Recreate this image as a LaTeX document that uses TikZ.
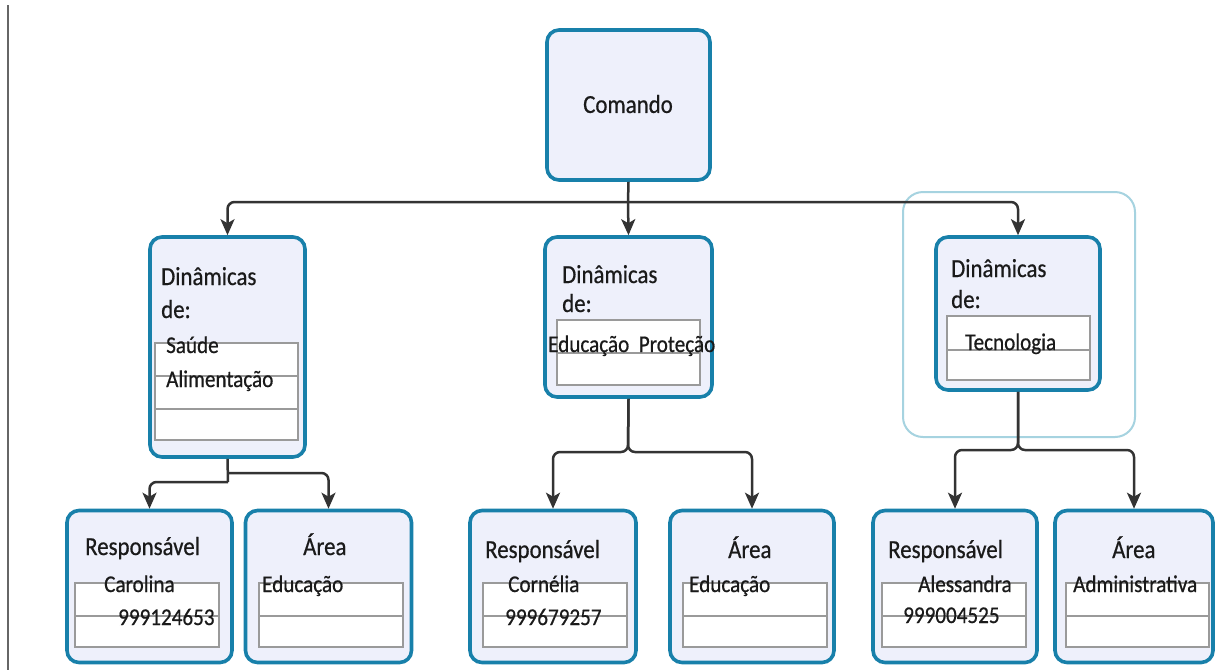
\documentclass[tikz,border=0pt]{standalone}
\usepackage{fontspec}
\setmainfont{Carlito}[FakeStretch=0.88,FakeBold=0.6]
\usetikzlibrary{arrows.meta}
\definecolor{boxedge}{HTML}{1880AA}
\definecolor{boxfill}{HTML}{EEF0FB}
\definecolor{hilite}{HTML}{A6D3E0}
\definecolor{rowedge}{HTML}{9A9A9A}
\definecolor{conncol}{HTML}{333333}
\definecolor{txt}{HTML}{1A1A1A}
\definecolor{edgeline}{HTML}{666666}
\begin{document}
\begin{tikzpicture}[x=1pt,y=-1pt,
 box/.style={draw=boxedge,fill=boxfill,line width=3.6pt,rounded corners=12pt,inner sep=0pt},
 row/.style={draw=rowedge,fill=white,line width=1.3pt},
 sepline/.style={draw=rowedge,line width=2.8pt},
 conn/.style={draw=conncol,line width=2.5pt,rounded corners=7pt},
 arr/.style={conn,-{Stealth[length=16pt,width=14pt,inset=4pt]}},
 hd/.style={font=\fontsize{26}{29}\selectfont,text=txt,inner sep=0pt,anchor=base west},
 tx/.style={font=\fontsize{24}{27}\selectfont,text=txt,inner sep=0pt,anchor=base west},
]
\useasboundingbox[fill=white] (0,0) rectangle (1222,670);
\draw[edgeline,line width=2pt] (8,5) -- (8,670);
% highlight frame
\draw[hilite,line width=2pt,rounded corners=20pt] (903,192) rectangle (1135,437);

% boxes
\node[box,minimum width=163pt,minimum height=150pt] (cmd) at (628.5,105) {};
\node[box,minimum width=155pt,minimum height=220pt] (d1) at (227.5,347) {};
\node[box,minimum width=167pt,minimum height=160pt] (d2) at (628.5,317) {};
\node[box,minimum width=164pt,minimum height=153pt] (d3) at (1018,313.5) {};
\node[box,minimum width=165pt,minimum height=152pt] (r1) at (149.5,586.5) {};
\node[box,minimum width=166pt,minimum height=152pt] (a1) at (328.5,586.5) {};
\node[box,minimum width=166pt,minimum height=152pt] (r2) at (553,586.5) {};
\node[box,minimum width=164pt,minimum height=152pt] (a2) at (752,586.5) {};
\node[box,minimum width=164pt,minimum height=152pt] (r3) at (955,586.5) {};
\node[box,minimum width=158pt,minimum height=152pt] (a3) at (1134,586.5) {};

% inner rows
\path[row] (155,343) rectangle (298,376);
\path[row] (155,376) rectangle (298,409);
\path[row] (155,409) rectangle (298,440);
\draw[sepline] (155,376) -- (298,376);
\draw[sepline] (155,409) -- (298,409);

\path[row] (557,320) rectangle (700,353);
\path[row] (557,353) rectangle (700,385);
\draw[sepline] (557,353) -- (700,353);

\path[row] (947,316) rectangle (1090,350);
\path[row] (947,350) rectangle (1090,380);
\draw[sepline] (947,350) -- (1090,350);

\foreach \xa/\xb in {75/219,259/403,483/627,683/827,882/1026,1066/1209}{
  \path[row] (\xa,583) rectangle (\xb,616);
  \path[row] (\xa,616) rectangle (\xb,647);
  \draw[sepline] (\xa,616) -- (\xb,616);
}

% connectors
\coordinate (j0) at (628,202);
\draw[conn] (cmd.south) -- (j0);
\draw[arr] (j0) -| (d1.north);
\draw[arr] (j0) -- (d2.north);
\draw[arr] (j0) -| (d3.north);

\coordinate (j1a) at (228,473);
\coordinate (j1b) at (228,482);
\draw[conn] (d1.south) -- (j1b);
\draw[arr] (j1b) -| (r1.north);
\draw[arr] (j1a) -| (a1.north);

\coordinate (j2) at (628,452);
\draw[arr] (d2.south) -- (j2) -| (r2.north);
\draw[arr] (d2.south) -- (j2) -| (a2.north);

\coordinate (j3) at (1018,450);
\draw[arr] (d3.south) -- (j3) -| (r3.north);
\draw[arr] (d3.south) -- (j3) -| (a3.north);

% texts
\node[hd,anchor=center] (tcmd) at (628,104) {Comando};

\node[hd] (t1a) at (161,285) {Dinâmicas};
\node[hd] (t1b) at (161,318) {de:};
\node[tx] (t1c) at (166,353) {Saúde};
\node[tx] (t1d) at (166,387) {Alimentação};

\node[hd] (t2a) at (562,283) {Dinâmicas};
\node[hd] (t2b) at (562,312) {de:};
\node[tx] (t2c) at (548,352) {Educação\ \ Proteção};

\node[hd] (t3a) at (951,277) {Dinâmicas};
\node[hd] (t3b) at (951,308) {de:};
\node[tx] (t3c) at (965,350) {Tecnologia};

\node[hd] (t4a) at (85,555) {Responsável};
\node[tx] (t4b) at (104,592) {Carolina};
\node[tx] (t4c) at (118,625) {999124653};

\node[hd] (t5a) at (303,555) {Área};
\node[tx] (t5b) at (262,592) {Educação};

\node[hd] (t6a) at (485,558) {Responsável};
\node[tx] (t6b) at (508,592) {Cornélia};
\node[tx] (t6c) at (505,625) {999679257};

\node[hd] (t7a) at (728,558) {Área};
\node[tx] (t7b) at (689,592) {Educação};

\node[hd] (t8a) at (888,558) {Responsável};
\node[tx] (t8b) at (918,592) {Alessandra};
\node[tx] (t8c) at (903,623) {999004525};

\node[hd] (t9a) at (1112,558) {Área};
\node[tx] (t9b) at (1073,592) {Administrativa};
\end{tikzpicture}
\end{document}
